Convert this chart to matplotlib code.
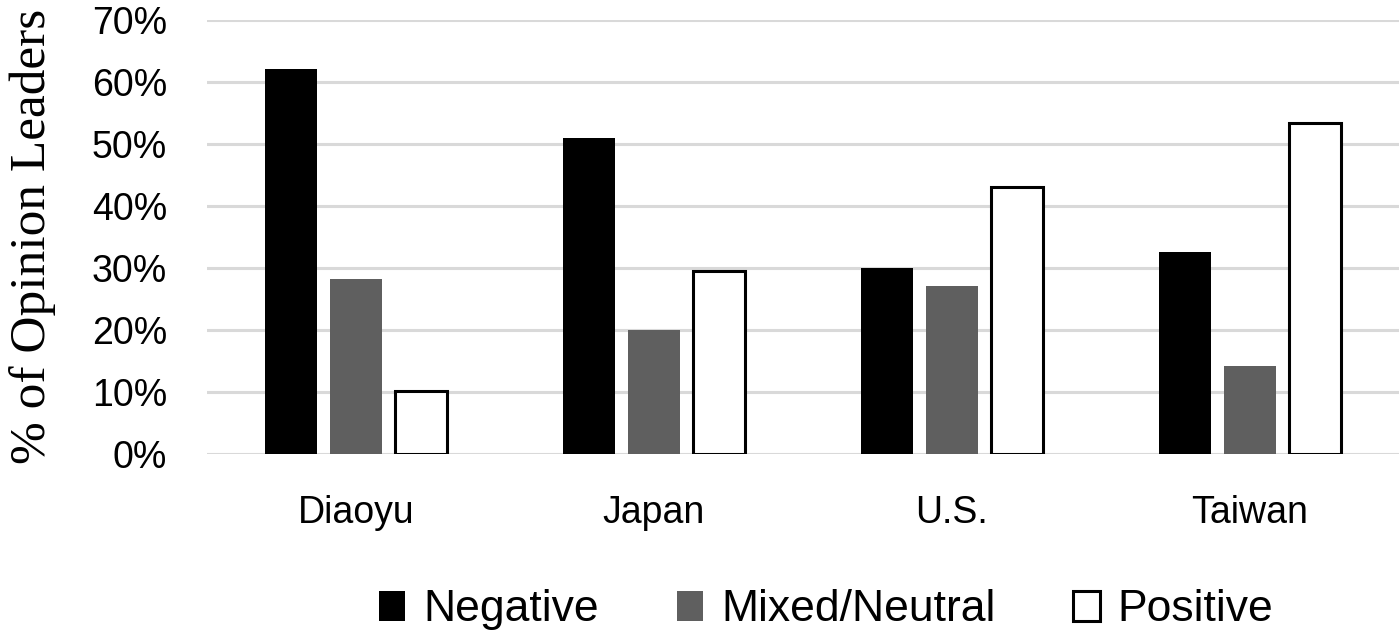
import numpy as np
import matplotlib
matplotlib.use('Agg')
import matplotlib.pyplot as plt
from matplotlib.ticker import PercentFormatter

categories = ['Diaoyu', 'Japan', 'U.S.', 'Taiwan']
negative = [0.62, 0.51, 0.30, 0.326]
mixed = [0.282, 0.20, 0.271, 0.142]
positive = [0.102, 0.295, 0.431, 0.534]

plt.rcParams['font.family'] = ['Liberation Sans', 'DejaVu Sans']

fig = plt.figure(figsize=(14, 6.4), dpi=100)
ax = fig.add_axes([0.148, 0.291, 0.851, 0.678])

x = np.arange(len(categories))
w = 0.175
step = 0.218
ax.bar(x - step, negative, w, color='black', label='Negative', zorder=3)
ax.bar(x, mixed, w, color='#5f5f5f', label='Mixed/Neutral', zorder=3)
ax.bar(x + step, positive, w, color='white', edgecolor='black', linewidth=2.2,
       label='Positive', zorder=3)

ax.set_xlim(-0.5, 3.5)
ax.set_ylim(0, 0.7)
ax.set_yticks(np.arange(0, 0.71, 0.1))
ax.yaxis.set_major_formatter(PercentFormatter(1.0, decimals=0))
ax.set_xticks(x)
ax.set_xticklabels(categories)
ax.grid(axis='y', color='#d9d9d9', linewidth=2.2, zorder=0)
for s in ax.spines.values():
    s.set_visible(False)
ax.tick_params(axis='both', length=0)
ax.tick_params(axis='x', pad=30, labelsize=27)
ax.tick_params(axis='y', pad=29, labelsize=27)

ax.set_ylabel('% of Opinion Leaders', family='Liberation Serif', fontsize=37, labelpad=26)

leg = fig.legend(loc='center', bbox_to_anchor=(0.59, 0.047), ncol=3, frameon=False,
                 fontsize=32, handlelength=0.6, handleheight=0.65, handletextpad=0.4,
                 columnspacing=1.75)

fig.savefig('out.png', dpi=100)
